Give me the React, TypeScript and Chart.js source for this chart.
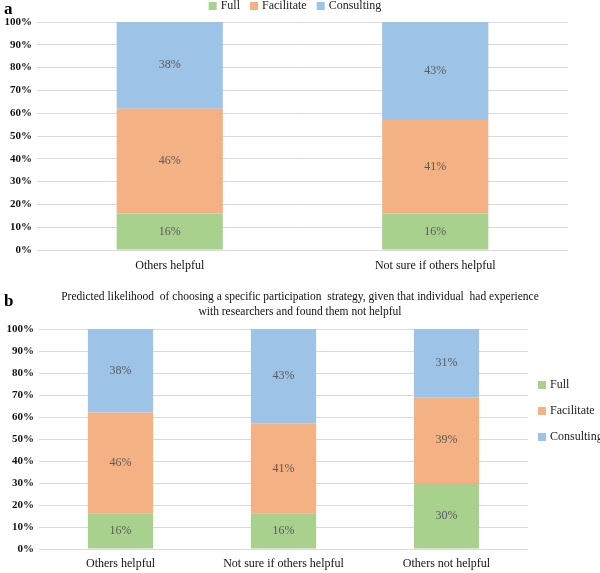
import React, { useEffect, useRef } from "react";
import { Chart, registerables } from "chart.js";
Chart.register(...registerables);

const seriesNames = ["Full", "Facilitate", "Consulting"];
const seriesColors = ["#a9d18e", "#f4b183", "#9dc3e6"];

const categoriesA = ["Others helpful", "Not sure if others helpful"];
const fullA = [16, 16];
const facilitateA = [46, 41];
const consultingA = [38, 43];

const categoriesB = ["Others helpful", "Not sure if others helpful", "Others not helpful"];
const fullB = [16, 16, 30];
const facilitateB = [46, 41, 39];
const consultingB = [38, 43, 31];

const yMin = 0;
const yMax = 100;
const yStep = 10;

const titleB = [
  "Predicted likelihood  of choosing a specific participation  strategy, given that individual  had experience",
  "with researchers and found them not helpful",
];

const SERIF = '"Liberation Serif", "Times New Roman", serif';

const barLabelPlugin = {
  id: "barLabels",
  afterDatasetsDraw(chart: any) {
    const ctx = chart.ctx;
    ctx.save();
    ctx.font = `12px ${SERIF}`;
    ctx.fillStyle = "#595959";
    ctx.textAlign = "center";
    ctx.textBaseline = "middle";
    chart.data.datasets.forEach((ds: any, di: number) => {
      const meta = chart.getDatasetMeta(di);
      meta.data.forEach((el: any, i: number) => {
        const v = ds.data[i];
        ctx.fillText(`${v}%`, el.x, (el.y + el.base) / 2);
      });
    });
    ctx.restore();
  },
};

const letterPlugin = {
  id: "panelLetter",
  afterDraw(chart: any, _args: any, opts: any) {
    const ctx = chart.ctx;
    ctx.save();
    ctx.font = `bold 17px ${SERIF}`;
    ctx.fillStyle = "#000";
    ctx.textAlign = "left";
    ctx.textBaseline = "middle";
    ctx.fillText(opts.text, opts.x, opts.y);
    ctx.restore();
  },
};

const centeredTitlePlugin = {
  id: "centeredTitle",
  afterDraw(chart: any, _args: any, opts: any) {
    if (!opts.lines) return;
    const ctx = chart.ctx;
    ctx.save();
    ctx.font = `${opts.size}px ${SERIF}`;
    ctx.fillStyle = "#111";
    ctx.textAlign = "center";
    ctx.textBaseline = "middle";
    opts.lines.forEach((line: string, i: number) => {
      ctx.fillText(line, chart.width / 2, opts.y + i * opts.lineHeight);
    });
    ctx.restore();
  },
};

const customLegendPlugin = {
  id: "customLegend",
  afterDraw(chart: any, _args: any, opts: any) {
    const ctx = chart.ctx;
    ctx.save();
    ctx.font = `12px ${SERIF}`;
    ctx.fillStyle = "#222";
    ctx.textBaseline = "middle";
    ctx.textAlign = "left";
    const ds = chart.data.datasets;
    const box = 8;
    const gap = 4;
    if (opts.mode === "row") {
      const spacing = 10;
      const widths = ds.map((d: any) => box + gap + ctx.measureText(d.label).width);
      const total = widths.reduce((a: number, b: number) => a + b, 0) + spacing * (ds.length - 1);
      let x = opts.cx - total / 2;
      ds.forEach((d: any, i: number) => {
        ctx.fillStyle = d.backgroundColor;
        ctx.fillRect(x, opts.y - box / 2, box, box);
        ctx.fillStyle = "#222";
        ctx.fillText(d.label, x + box + gap, opts.y);
        x += widths[i] + spacing;
      });
    } else {
      const x = chart.chartArea.right + opts.dx;
      ds.forEach((d: any, i: number) => {
        const y = chart.chartArea.top + opts.dy + i * opts.step;
        ctx.fillStyle = d.backgroundColor;
        ctx.fillRect(x, y - box / 2, box, box);
        ctx.fillStyle = "#222";
        ctx.fillText(d.label, x + box + gap, y);
      });
    }
    ctx.restore();
  },
};

function makeDatasets(full: number[], fac: number[], con: number[]) {
  return [full, fac, con].map((data, i) => ({
    label: seriesNames[i],
    data,
    backgroundColor: seriesColors[i],
    borderWidth: 0,
    categoryPercentage: 1,
    barPercentage: 0.4,
  }));
}

function makeScales(yWidth: number, xHeight: number, xPad: number) {
  return {
    x: {
      stacked: true,
      grid: { display: false },
      border: { display: false },
      ticks: { font: { family: SERIF, size: 12 }, color: "#111", padding: xPad, maxRotation: 0, autoSkip: false },
      afterFit(scale: any) {
        scale.height = xHeight;
      },
    },
    y: {
      stacked: true,
      min: yMin,
      max: yMax,
      grid: { color: "#d9d9d9", drawTicks: false, lineWidth: 1 },
      border: { display: false },
      ticks: {
        stepSize: yStep,
        padding: 5,
        color: "#111",
        font: { family: SERIF, size: 11, weight: "bold" },
        callback: (v: any) => `${v}%`,
      },
      afterFit(scale: any) {
        scale.width = yWidth;
      },
    },
  };
}

export default function App() {
  const refA = useRef<HTMLCanvasElement>(null);
  const refB = useRef<HTMLCanvasElement>(null);

  useEffect(() => {
    document.body.style.margin = "0";
    const chartA = new Chart(refA.current!, {
      type: "bar",
      data: { labels: categoriesA, datasets: makeDatasets(fullA, facilitateA, consultingA) as any },
      plugins: [barLabelPlugin, letterPlugin, customLegendPlugin],
      options: {
        animation: false,
        responsive: false,
        layout: { padding: { top: 22, right: 32, left: 0, bottom: 0 } },
        plugins: {
          legend: { display: false },
          tooltip: { enabled: false },
          panelLetter: { text: "a", x: 4, y: 10 },
          customLegend: { mode: "row", cx: 295, y: 6 },
        } as any,
        scales: makeScales(37, 30, 1) as any,
      },
    });
    const chartB = new Chart(refB.current!, {
      type: "bar",
      data: { labels: categoriesB, datasets: makeDatasets(fullB, facilitateB, consultingB) as any },
      plugins: [barLabelPlugin, letterPlugin, customLegendPlugin, centeredTitlePlugin],
      options: {
        animation: false,
        responsive: false,
        layout: { padding: { top: 49, right: 72, left: 0, bottom: 0 } },
        plugins: {
          legend: { display: false },
          tooltip: { enabled: false },
          centeredTitle: { lines: titleB, size: 11.5, y: 17, lineHeight: 15 },
          panelLetter: { text: "b", x: 4, y: 22 },
          customLegend: { mode: "column", dx: 10, dy: 56, step: 26 },
        } as any,
        scales: makeScales(39, 24, 0) as any,
      },
    });
    return () => {
      chartA.destroy();
      chartB.destroy();
    };
  }, []);

  return (
    <div style={{ position: "relative", width: 600, height: 573, background: "#fff" }}>
      <canvas ref={refA} width={600} height={280} style={{ display: "block", position: "absolute", left: 0, top: 0 }} />
      <canvas ref={refB} width={600} height={293} style={{ display: "block", position: "absolute", left: 0, top: 280 }} />
    </div>
  );
}
